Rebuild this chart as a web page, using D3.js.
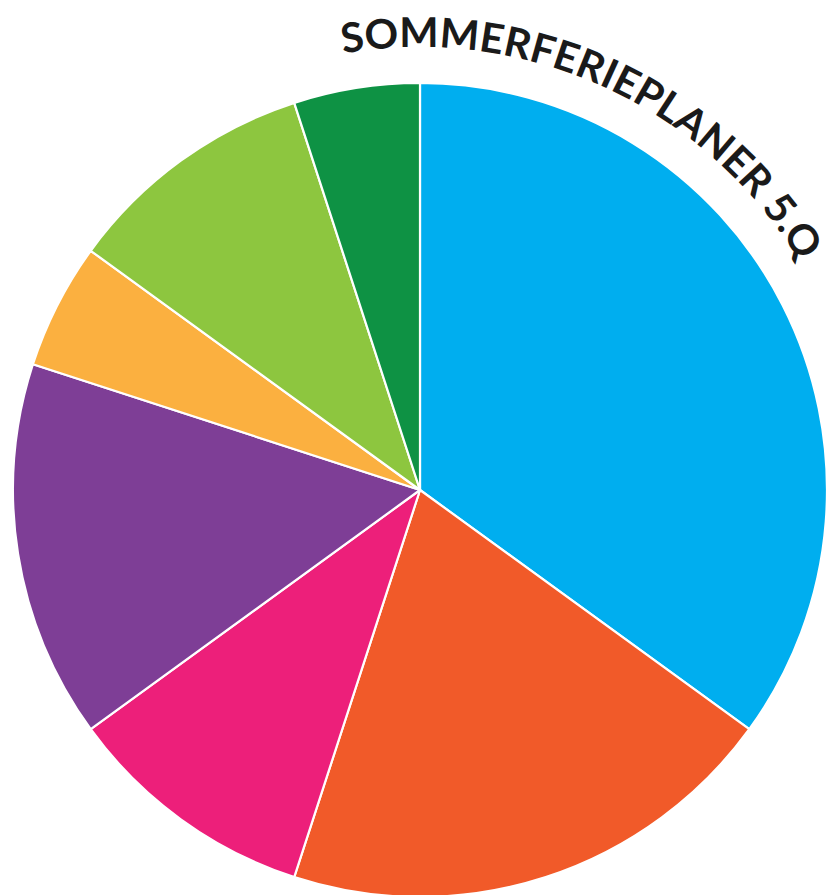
<!DOCTYPE html>
<html>
<head>
<meta charset="utf-8">
<script src="https://cdn.jsdelivr.net/npm/d3@7"></script>
<style>
  html, body { margin: 0; padding: 0; background: #ffffff; }
  svg { display: block; }
</style>
</head>
<body>
<svg id="chart" width="829" height="895"></svg>
<script>
// Data (clockwise from 12 o'clock)
const categories = ["A", "B", "C", "D", "E", "F", "G"];
const values = [35, 20, 10, 15, 5, 10, 5];
const colors = ["#00AEEF", "#F15A29", "#ED1F7A", "#7E3E96", "#FBB040", "#8DC63F", "#0E9244"];
const titleText = "SOMMERFERIEPLANER 5.Q";

const svg = d3.select("#chart");
const cx = 420, cy = 490, R = 407;

const g = svg.append("g").attr("transform", `translate(${cx},${cy})`);

const pie = d3.pie().sort(null).value(d => d.value);
const arc = d3.arc().innerRadius(0).outerRadius(R);

const data = categories.map((c, i) => ({ cat: c, value: values[i], color: colors[i] }));

g.selectAll("path.slice")
  .data(pie(data))
  .enter().append("path")
  .attr("class", "slice")
  .attr("d", arc)
  .attr("fill", d => d.data.color)
  .attr("stroke", "#ffffff")
  .attr("stroke-width", 2.2)
  .attr("stroke-linejoin", "round");

// Curved title along a circle
const rt = 443;
const a0 = -10 * Math.PI / 180, a1 = 59 * Math.PI / 180;
const p = (a) => [rt * Math.sin(a), -rt * Math.cos(a)];
const [x0, y0] = p(a0), [x1, y1] = p(a1);
g.append("defs").append("path")
  .attr("id", "titlePath")
  .attr("d", `M${x0},${y0} A${rt},${rt} 0 0 1 ${x1},${y1}`);

g.append("text")
  .attr("font-family", "'Comic Sans MS', 'Lato', 'DejaVu Sans', sans-serif")
  .attr("font-weight", "700")
  .attr("font-size", 41)
  .attr("fill", "#1a1a1a")
  .append("textPath")
  .attr("href", "#titlePath")
  .attr("textLength", (a1 - a0) * rt)
  .attr("lengthAdjust", "spacingAndGlyphs")
  .text(titleText);
</script>
</body>
</html>
